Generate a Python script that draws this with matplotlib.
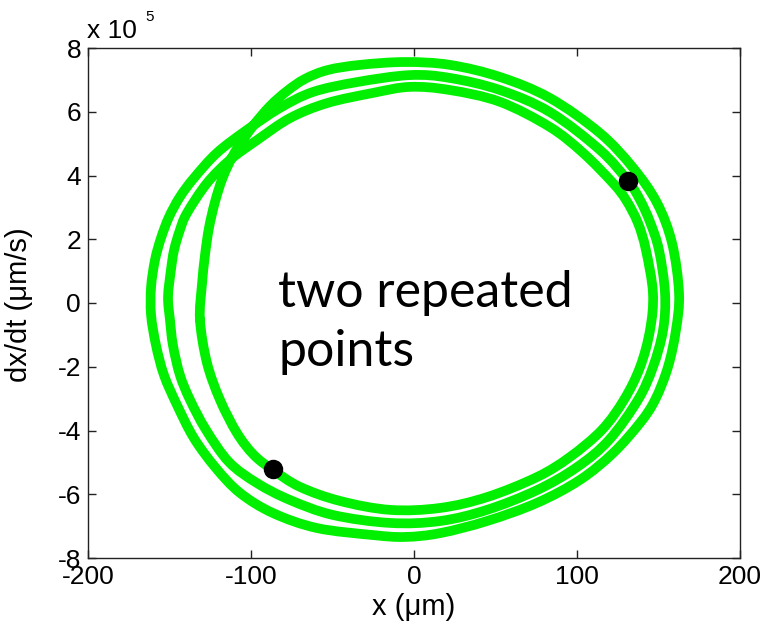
import numpy as np
import matplotlib
matplotlib.use("Agg")
import matplotlib.pyplot as plt
from matplotlib.path import Path
from matplotlib.patches import PathPatch

plt.rcParams['font.family'] = ['Liberation Sans', 'DejaVu Sans']
plt.rcParams['axes.unicode_minus'] = False

# Trajectory: x (um) and dx/dt (x 10^5 um/s), three windings
loop1_x = [-131.3, -130.1, -128.2, -125.8, -122.1, -117.2, -109.8, -98.8, -88.3, -77.9,
           -66.9, -52.8, -33.1, -5.5, 22.1, 52.8, 83.4, 114.1, 134.4, 149.1,
           158.3, 162.6, 160.7, 155.8, 147.9, 138.7, 122.1, 101.8, 75.5, 44.8,
           16.0, -5.5, -25.2, -59.5, -86.5, -106.7, -121.5, -135.0, -145.4, -153.4,
           -158.3, -161.3, -161.3]
loop1_y = [-0.53, 0.57, 1.51, 2.35, 3.17, 3.95, 4.74, 5.55, 6.18, 6.65,
           7.03, 7.31, 7.47, 7.56, 7.47, 7.09, 6.43, 5.33, 4.24, 3.14,
           1.88, 0.31, -0.85, -2.01, -3.04, -3.76, -4.71, -5.55, -6.27, -6.84,
           -7.22, -7.34, -7.28, -7.06, -6.59, -5.96, -5.18, -4.24, -3.20, -2.26,
           -1.32, -0.38, 0.50]

loop2_x = [-158.9, -155.2, -150.3, -143.6, -135.0, -120.9, -102.5, -82.2, -62.0, -35.0,
           -2.5, 22.1, 52.8, 83.4, 114.1, 131.3, 138.7, 144.8, 150.3, 154.0,
           152.8, 146.6, 137.4, 119.6, 100.0, 75.5, 44.8, 16.0, -14.7, -49.7,
           -76.1, -96.3, -113.5, -127.6, -137.4, -143.6, -147.9, -149.7, -150.9, -149.1,
           -147.2, -143.6]
loop2_y = [1.35, 2.04, 2.70, 3.33, 3.92, 4.71, 5.43, 6.12, 6.62, 6.93,
           7.15, 7.06, 6.68, 5.99, 4.80, 3.83, 3.23, 2.54, 1.66, 0.31,
           -0.85, -2.01, -3.04, -4.30, -5.15, -5.87, -6.49, -6.84, -6.90, -6.65,
           -6.18, -5.65, -4.99, -3.98, -3.04, -2.26, -1.32, -0.53, 0.19, 1.04,
           1.66, 2.29]

loop3_x = [-139.3, -127.0, -112.9, -96.3, -76.1, -53.4, -25.2, -2.5, 22.1, 52.8,
           83.4, 103.7, 122.1, 130.1, 137.4, 142.3, 146.6, 144.8, 138.7, 128.8,
           115.3, 95.7, 75.5, 44.8, 16.0, -14.7, -45.4, -69.9, -86.5, -98.2,
           -108.6, -119.0, -127.0]
loop3_y = [2.82, 3.76, 4.49, 5.11, 5.80, 6.27, 6.59, 6.78, 6.68, 6.31,
           5.52, 4.71, 3.76, 3.23, 2.51, 1.66, 0.31, -0.85, -2.01, -3.04,
           -3.98, -4.83, -5.46, -6.09, -6.43, -6.49, -6.21, -5.77, -5.24, -4.77,
           -4.08, -3.04, -1.88]

# the two repeated points
mark_x = [131.3, -86.5]
mark_y = [3.83, -5.21]

x_ticks = [-200, -100, 0, 100, 200]
y_ticks = [-8, -6, -4, -2, 0, 2, 4, 6, 8]

W, H = 772, 629
fig = plt.figure(figsize=(W / 100, H / 100), dpi=100)
ax = fig.add_axes([88 / W, (H - 558) / H, (740 - 88) / W, (558 - 48) / H])

# closed trajectory drawn as a smooth (Catmull-Rom style) path through the read points
P = np.column_stack([np.concatenate([loop1_x, loop2_x, loop3_x]),
                     np.concatenate([loop1_y, loop2_y, loop3_y])])
n = len(P)
verts = [P[0]]
codes = [Path.MOVETO]
for i in range(n):
    p0, p1, p2, p3 = P[i - 1], P[i], P[(i + 1) % n], P[(i + 2) % n]
    verts += [p1 + (p2 - p0) / 6.0, p2 - (p3 - p1) / 6.0, p2]
    codes += [Path.CURVE4] * 3
traj = PathPatch(Path(verts, codes), fill=False, edgecolor='#00f000', lw=7.0,
                 joinstyle='round', capstyle='round', zorder=2)
ax.add_patch(traj)
ax.plot(mark_x, mark_y, 'o', color='k', ms=13, mfc='k', mec='k', zorder=3)

ax.set_xlim(-200, 200)
ax.set_ylim(-8, 8)
ax.set_xticks(x_ticks)
ax.set_yticks(y_ticks)
ax.set_xticklabels([str(v) for v in x_ticks])
ax.set_yticklabels([str(v) for v in y_ticks])
ax.tick_params(direction='in', top=True, right=True, length=6, width=1,
               labelsize=19, pad=5, colors='#222222', labelcolor='black')
for s in ax.spines.values():
    s.set_color('#222222')
    s.set_linewidth(1)

fig.text(414 / W, 1 - 607 / H, 'x (μm)', ha='center', va='center', fontsize=21)
fig.text(19 / W, 1 - 305 / H, 'dx/dt (μm/s)', ha='center', va='center',
         rotation=90, fontsize=21)
fig.text(87 / W, 1 - 38 / H, 'x 10', ha='left', va='baseline', fontsize=19)
fig.text(145 / W, 1 - 21 / H, '5', ha='left', va='baseline', fontsize=11)

fig.text(278 / W, 1 - 307 / H, 'two repeated', ha='left', va='baseline',
         fontsize=36, family=['Lato', 'DejaVu Sans'])
fig.text(278 / W, 1 - 366 / H, 'points', ha='left', va='baseline',
         fontsize=36, family=['Lato', 'DejaVu Sans'])

fig.savefig('out.png', dpi=100)
